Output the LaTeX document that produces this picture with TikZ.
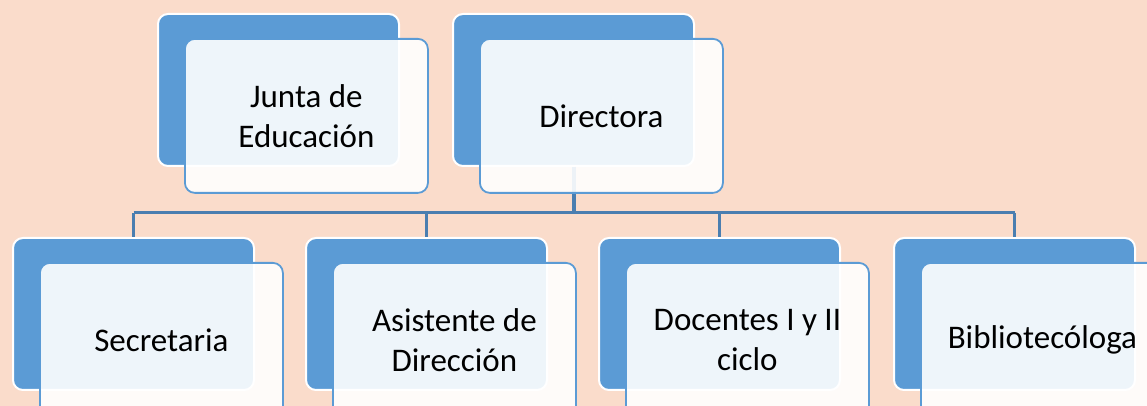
\documentclass[tikz,border=0pt]{standalone}
\usepackage{fontspec}
\setmainfont{Carlito}
\definecolor{bg}{HTML}{FADCCB}
\definecolor{accent}{HTML}{5B9BD5}
\definecolor{linec}{HTML}{4A7EB0}
\begin{document}
\begin{tikzpicture}[x=1pt,y=1pt,
  backbox/.style={draw=white, line width=2pt, fill=accent, rounded corners=10pt,
    minimum width=241pt, minimum height=152pt, anchor=north west, inner sep=0pt},
  frontbox/.style={draw=accent, line width=1.8pt, fill=white, fill opacity=0.9,
    text opacity=1, rounded corners=10pt, minimum width=243pt, minimum height=154pt,
    anchor=north west, align=center, inner sep=0pt, text=black,
    font=\fontsize{33}{40}\selectfont},
  conn/.style={draw=linec, line width=2.5pt}]
\path[use as bounding box] (0,0) rectangle (1147,406);
\clip (0,0) rectangle (1147,406);
\fill[bg] (0,0) rectangle (1147,406);
% back boxes
\node[backbox] (juntaB) at (157,393) {};
\node[backbox] (dirB) at (452,393) {};
\node[backbox] (secB) at (12,169) {};
\node[backbox] (asiB) at (305,169) {};
\node[backbox] (docB) at (598,169) {};
\node[backbox] (bibB) at (893,169) {};
% connectors
\coordinate (busy) at (0,193);
\draw[conn, line width=4pt] (dirB.south) -- (dirB.south |- busy);
\draw[conn, line width=3pt] (secB.north |- busy) -- (bibB.north |- busy);
\draw[conn] (secB.north |- busy) -- (secB.north);
\draw[conn] (asiB.north |- busy) -- (asiB.north);
\draw[conn] (docB.north |- busy) -- (docB.north);
\draw[conn] (bibB.north |- busy) -- (bibB.north);
% front boxes
\node[frontbox] (junta) at (184,368) {Junta de\\Educación};
\node[frontbox] (dir) at (479,368) {Directora};
\node[frontbox] (sec) at (39,144) {Secretaria};
\node[frontbox] (asi) at (332,144) {Asistente de\\Dirección};
\node[frontbox] (doc) at (625,144) {Docentes I y II\\ciclo};
\node[frontbox] (bib) at (920,144) {Bibliotecóloga};
\end{tikzpicture}
\end{document}
